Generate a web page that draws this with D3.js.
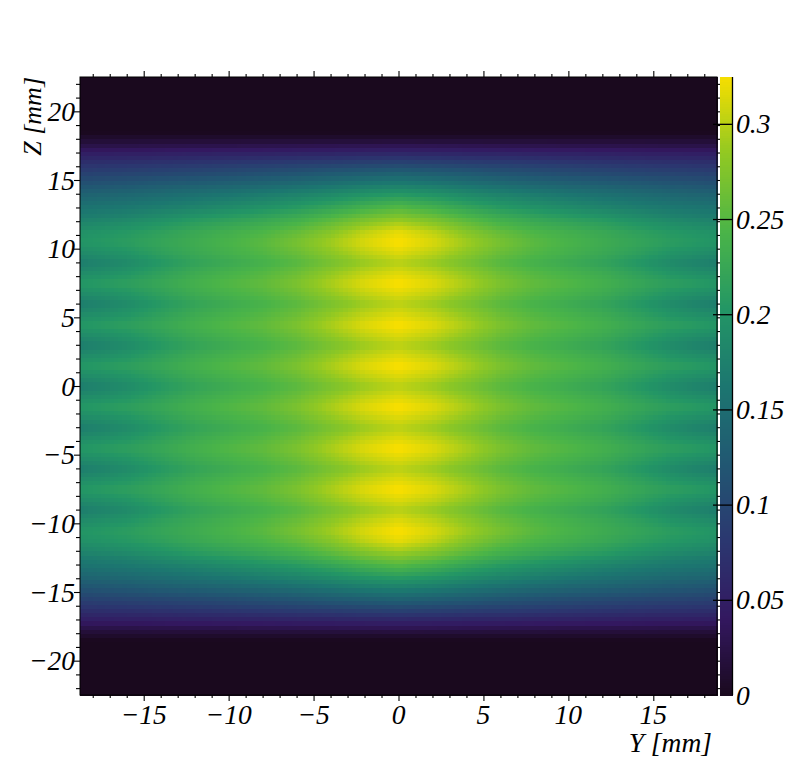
<!DOCTYPE html>
<html>
<head>
<meta charset="utf-8">
<script src="https://cdn.jsdelivr.net/npm/d3@7/dist/d3.min.js"></script>
<style>
html,body{margin:0;padding:0;background:#fff}
svg{display:block}
text{font-family:"Liberation Serif",serif;font-style:italic;fill:#000}
</style>
</head>
<body>
<div id="chart"></div>
<script>
// Values, one quadrant (the picture is mirror-symmetric in Y and Z).
const yCols = [0, 2, 4, 6, 8, 10, 12, 14, 16, 18.75];
const zRows = [0, 0.75, 1.5, 2.25, 3, 3.75, 4.5, 5.25, 6, 6.75, 7.5, 8.25, 9, 9.75, 10.5, 11.25, 12, 12.5, 13, 13.5, 14, 14.5, 15, 15.5, 16, 16.5, 17, 17.5, 18, 18.5, 22.5];
const density = [
  [.300,.288,.270,.252,.240,.230,.220,.205,.187,.170],
  [.315,.303,.284,.263,.249,.240,.230,.216,.201,.188],
  [.328,.316,.295,.273,.257,.248,.238,.225,.215,.205],
  [.315,.303,.284,.263,.249,.240,.230,.216,.201,.188],
  [.300,.288,.270,.252,.240,.230,.220,.205,.187,.170],
  [.315,.303,.284,.263,.249,.240,.230,.216,.201,.188],
  [.328,.316,.295,.273,.257,.248,.238,.225,.215,.205],
  [.315,.303,.284,.263,.249,.240,.230,.216,.201,.188],
  [.300,.288,.270,.252,.240,.230,.220,.205,.187,.170],
  [.315,.303,.284,.263,.249,.240,.230,.216,.201,.188],
  [.328,.316,.295,.273,.257,.248,.238,.225,.215,.205],
  [.315,.303,.284,.263,.249,.240,.230,.216,.201,.188],
  [.298,.286,.268,.250,.238,.228,.218,.203,.186,.170],
  [.315,.301,.281,.261,.247,.237,.227,.215,.200,.187],
  [.328,.314,.291,.270,.253,.242,.232,.222,.212,.202],
  [.318,.302,.278,.258,.244,.235,.226,.215,.205,.195],
  [.292,.278,.258,.240,.229,.220,.212,.200,.190,.180],
  [.270,.258,.240,.225,.214,.205,.196,.186,.175,.167],
  [.250,.238,.222,.208,.198,.189,.180,.172,.165,.158],
  [.228,.218,.204,.192,.183,.175,.167,.160,.153,.147],
  [.205,.198,.187,.177,.169,.161,.154,.148,.142,.136],
  [.182,.177,.167,.158,.150,.144,.139,.134,.128,.122],
  [.158,.153,.145,.138,.132,.127,.122,.118,.113,.108],
  [.135,.130,.125,.118,.113,.108,.104,.100,.097,.093],
  [.110,.107,.103,.099,.095,.092,.088,.085,.082,.079],
  [.085,.083,.080,.078,.075,.072,.070,.068,.066,.064],
  [.060,.059,.057,.056,.054,.053,.052,.050,.049,.048],
  [.035,.034,.033,.032,.031,.030,.030,.029,.028,.028],
  [.012,.012,.012,.012,.012,.012,.012,.012,.012,.012],
  [0,0,0,0,0,0,0,0,0,0],
  [0,0,0,0,0,0,0,0,0,0]
];
const xTickValues = [-15, -10, -5, 0, 5, 10, 15];
const zTickValues = [-20, -15, -10, -5, 0, 5, 10, 15, 20];
const cTickValues = [0, 0.05, 0.1, 0.15, 0.2, 0.25, 0.3];
const cTickLabels = ["0", "0.05", "0.1", "0.15", "0.2", "0.25", "0.3"];
const paletteStops = ["#1a091e", "#331860", "#2b3770", "#215772", "#1c7670", "#239665", "#4ab448", "#90c823", "#f6de00"];
const cellCount = 150;
const valueMax = 0.3246;
const yRange = [-18.75, 18.75];
const zRange = [-22.5, 22.5];

const W = 796, H = 772;
const L = 80, R = 717, T = 77, B = 695;
const barL = 720, barR = 732.5;

const x = d3.scaleLinear().domain(yRange).range([L, R]);
const z = d3.scaleLinear().domain(zRange).range([B, T]);
const c = d3.scaleLinear().domain([0, valueMax]).range([B, T]);
const color = d3.scaleLinear()
  .domain(paletteStops.map((_, i) => valueMax * i / (paletteStops.length - 1)))
  .range(paletteStops).clamp(true);

const svg = d3.select("#chart").append("svg").attr("width", W).attr("height", H);

// The map is painted on the 150 x 150 bin grid of the original; bins between the
// read table positions are resampled with linear scales.
const columnScales = yCols.map((_, j) =>
  d3.scaleLinear().domain(zRows).range(density.map(r => r[j])).clamp(true));
const dy = (yRange[1] - yRange[0]) / cellCount;
const dz = (zRange[1] - zRange[0]) / cellCount;
const cells = [];
for (let i = 0; i < cellCount; i++) {
  const zc = zRange[0] + (i + 0.5) * dz;
  const across = d3.scaleLinear().domain(yCols).range(columnScales.map(s => s(Math.abs(zc)))).clamp(true);
  for (let j = 0; j < cellCount; j++) {
    const yc = yRange[0] + (j + 0.5) * dy;
    cells.push({i, j, v: across(Math.abs(yc))});
  }
}
svg.append("g").attr("shape-rendering", "crispEdges").selectAll("rect").data(cells).join("rect")
  .attr("x", d => x(yRange[0] + d.j * dy))
  .attr("y", d => z(zRange[0] + (d.i + 1) * dz))
  .attr("width", d => x(yRange[0] + (d.j + 1) * dy) - x(yRange[0] + d.j * dy) + 0.6)
  .attr("height", d => z(zRange[0] + d.i * dz) - z(zRange[0] + (d.i + 1) * dz) + 0.6)
  .attr("fill", d => color(d.v));

// Colour bar
const barSteps = d3.range(0, 255);
svg.append("g").attr("shape-rendering", "crispEdges").selectAll("rect").data(barSteps).join("rect")
  .attr("x", barL).attr("width", barR - barL)
  .attr("y", d => c(valueMax * (d + 1) / 255))
  .attr("height", d => c(valueMax * d / 255) - c(valueMax * (d + 1) / 255) + 0.6)
  .attr("fill", d => color(valueMax * (d + 0.5) / 255));

// Axes: frame plus mirrored ticks built from d3 axis generators.
const minorX = d3.range(-18, 19).filter(v => v % 5 !== 0);
const minorZ = d3.range(-22, 23).filter(v => v % 5 !== 0);
const allZ = d3.range(-22, 23);

function tickAxis(gen, transform, values, size) {
  const g = svg.append("g").attr("transform", transform)
    .call(gen.tickValues(values).tickSize(size).tickFormat(""));
  g.selectAll(".domain").remove();
  g.selectAll("line").attr("stroke", "#000").attr("stroke-width", 1.1);
  return g;
}
tickAxis(d3.axisBottom(x), `translate(0,${B})`, minorX, 3);
tickAxis(d3.axisBottom(x), `translate(0,${B})`, xTickValues, 6);
tickAxis(d3.axisTop(x), `translate(0,${T})`, minorX, 3);
tickAxis(d3.axisTop(x), `translate(0,${T})`, xTickValues, 6);
tickAxis(d3.axisLeft(z), `translate(${L},0)`, minorZ, 4);
tickAxis(d3.axisLeft(z), `translate(${L},0)`, zTickValues, 6);
tickAxis(d3.axisRight(z), `translate(${R},0)`, allZ, 3);

// Colour-bar major ticks run from inside the map across the bar.
const cAxis = svg.append("g").attr("transform", `translate(${barR},0)`)
  .call(d3.axisLeft(c).tickValues(cTickValues.slice(1)).tickSize(barR - 713).tickFormat(""));
cAxis.selectAll(".domain").remove();
cAxis.selectAll("line").attr("stroke", "#000").attr("stroke-width", 1.3);

const frame = svg.append("g").attr("fill", "none").attr("stroke", "#000");
frame.append("rect").attr("x", L).attr("y", T).attr("width", R - L).attr("height", B - T).attr("stroke-width", 1);
frame.append("line").attr("x1", barR).attr("x2", barR).attr("y1", T).attr("y2", B).attr("stroke-width", 1.3);

// Tick labels
const fs = 27.5;
svg.append("g").selectAll("text").data(xTickValues).join("text")
  .attr("x", d => x(d)).attr("y", 724).attr("text-anchor", "middle")
  .attr("font-size", fs).text(d => d < 0 ? "\u2212" + Math.abs(d) : d);
svg.append("g").selectAll("text").data(zTickValues).join("text")
  .attr("x", 75).attr("y", d => z(d) + 9.5).attr("text-anchor", "end")
  .attr("font-size", fs).text(d => d < 0 ? "\u2212" + Math.abs(d) : d);
svg.append("g").selectAll("text").data(cTickValues).join("text")
  .attr("x", 736).attr("y", d => c(d) + 9.5).attr("text-anchor", "start")
  .attr("font-size", fs).text((d, i) => cTickLabels[i]);

// Axis titles
svg.append("text").attr("x", 712).attr("y", 752).attr("text-anchor", "end")
  .attr("font-size", 27.5).text("Y [mm]");
svg.append("text").attr("transform", "translate(41,77) rotate(-90)").attr("text-anchor", "end")
  .attr("font-size", 26).text("Z [mm]");
</script>
</body>
</html>
